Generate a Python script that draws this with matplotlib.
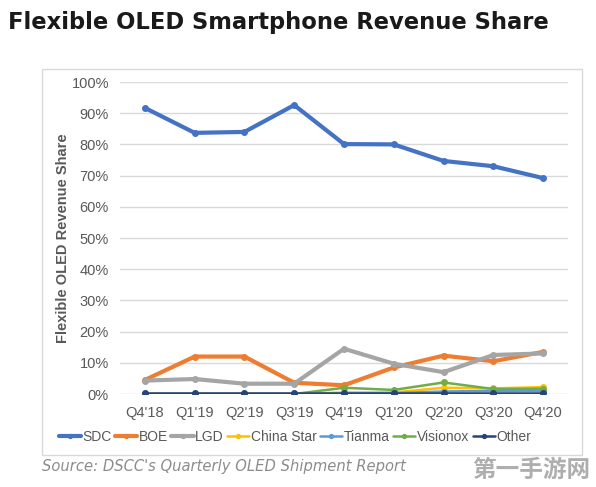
import matplotlib
matplotlib.use("Agg")
import matplotlib.pyplot as plt
from matplotlib.patches import Rectangle
from matplotlib.ticker import PercentFormatter

quarters = ["Q4'18", "Q1'19", "Q2'19", "Q3'19", "Q4'19", "Q1'20", "Q2'20", "Q3'20", "Q4'20"]
sdc = [91.7, 83.7, 84.0, 92.6, 80.1, 80.0, 74.7, 73.0, 69.2]
boe = [4.5, 12.0, 12.0, 3.6, 2.8, 8.5, 12.3, 10.5, 13.5]
lgd = [4.3, 4.8, 3.3, 3.3, 14.5, 9.7, 7.0, 12.5, 13.0]
china_star = [0.0, 0.0, 0.0, 0.0, 0.5, 0.5, 2.0, 1.8, 2.2]
tianma = [0.0, 0.0, 0.0, 0.0, 0.1, 0.3, 0.8, 1.0, 1.0]
visionox = [0.0, 0.0, 0.0, 0.0, 2.0, 1.3, 3.7, 1.6, 1.7]
other = [0.3, 0.3, 0.3, 0.3, 0.3, 0.3, 0.3, 0.3, 0.3]

series = [
    ("SDC", sdc, "#4472C4"),
    ("BOE", boe, "#ED7D31"),
    ("LGD", lgd, "#A5A5A5"),
    ("China Star", china_star, "#FFC000"),
    ("Tianma", tianma, "#5B9BD5"),
    ("Visionox", visionox, "#70AD47"),
    ("Other", other, "#264478"),
]

plt.rcParams["font.family"] = ["Liberation Sans", "DejaVu Sans"]

fig = plt.figure(figsize=(5.96, 4.87), dpi=100)
fig.patch.set_facecolor("white")

# light frame around the chart
fig.add_artist(Rectangle((42 / 596, 1 - 455 / 487), 540 / 596, 386 / 487,
                         transform=fig.transFigure, fill=False,
                         edgecolor="#d9d9d9", linewidth=1))

ax = fig.add_axes([120 / 596, 1 - 394 / 487, 448 / 596, 312 / 487])
x = list(range(len(quarters)))
for name, vals, color in series:
    lw = 3 if name in ("SDC", "BOE", "LGD") else 1.8
    ax.plot(x, vals, color=color, linewidth=lw, marker="o", markersize=4,
            label=name, solid_capstyle="round")

ax.set_xlim(-0.5, 8.5)
ax.set_ylim(0, 100)
ax.set_yticks(range(0, 101, 10))
ax.yaxis.set_major_formatter(PercentFormatter(decimals=0))
ax.set_xticks(x)
ax.set_xticklabels(quarters)
ax.grid(axis="y", color="#d9d9d9", linewidth=1)
ax.set_axisbelow(True)
for s in ax.spines.values():
    s.set_visible(False)
ax.tick_params(length=0, labelsize=10.5, colors="#595959", pad=8)
ax.tick_params(axis="x", pad=9)
ax.set_ylabel("Flexible OLED Revenue Share", fontsize=10.5, fontweight="bold",
              color="#595959", labelpad=1)

fig.legend(*ax.get_legend_handles_labels(), loc="center",
           bbox_to_anchor=(295 / 596, 1 - 437 / 487), ncol=7, frameon=False,
           fontsize=10, labelcolor="#595959", handlelength=1.6, handletextpad=0.1,
           columnspacing=0.25, markerscale=0.7, borderpad=0, borderaxespad=0)

fig.text(8 / 596, 1 - 22 / 487, "Flexible OLED Smartphone Revenue Share",
         fontsize=16.3, fontweight="bold", color="#1a1a1a", va="center",
         family=["DejaVu Sans"])
fig.text(42 / 596, 1 - 467 / 487, "Source: DSCC's Quarterly OLED Shipment Report",
         fontsize=10.6, style="italic", color="#8c8c8c", va="center",
         family=["DejaVu Sans"])
fig.text(590 / 596, 1 - 470 / 487, "第一手游网", fontsize=17, fontweight="bold",
         color="#9a9a9a", ha="right", va="center", alpha=0.8,
         family=["Noto Sans CJK SC", "DejaVu Sans"])

plt.savefig("out.png", dpi=100)
